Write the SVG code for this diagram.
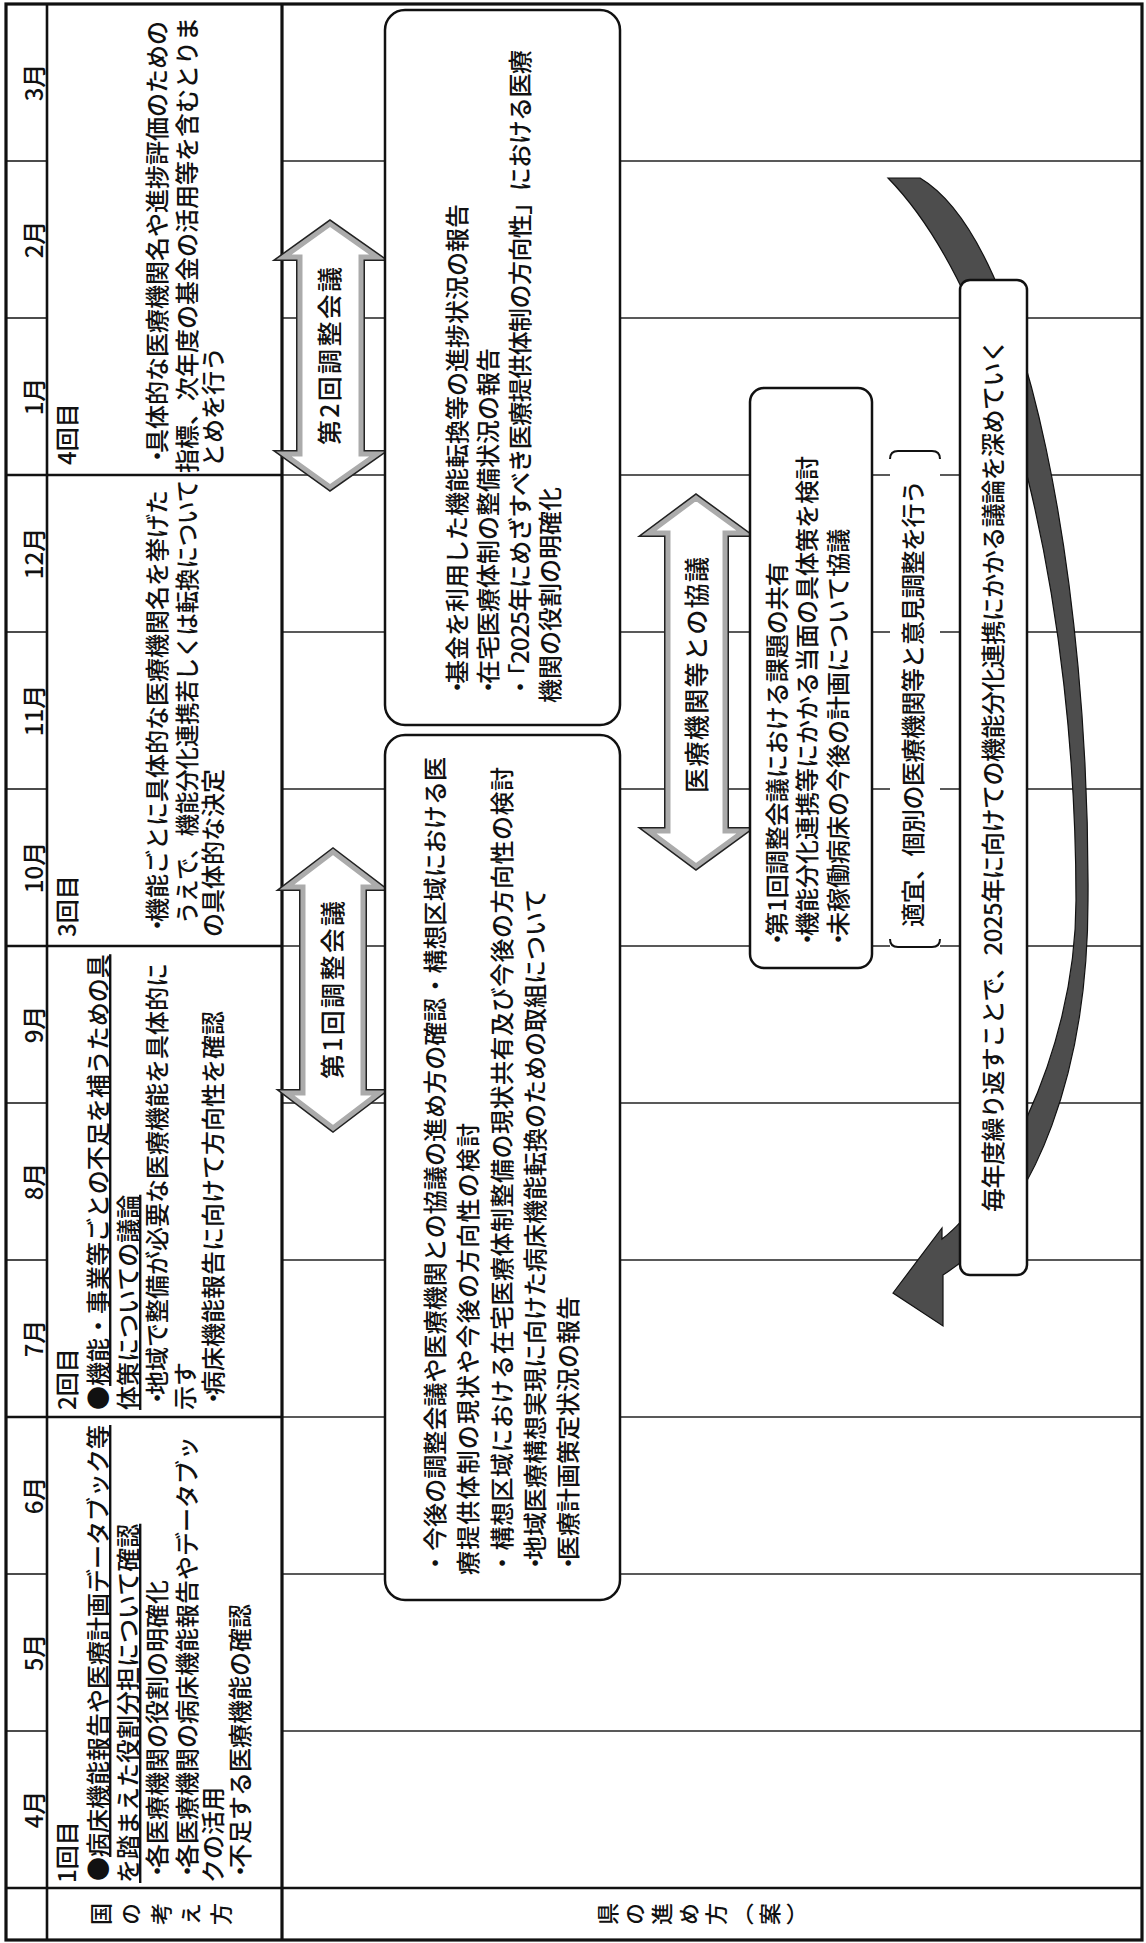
<svg xmlns="http://www.w3.org/2000/svg" width="1146" height="1943" viewBox="0 0 1146 1943">
<defs>
<style>
text{font-family:'Noto Sans CJK JP','Noto Sans',sans-serif;fill:#111;font-weight:500;}
.t{font-size:24px;}
.m{font-size:24px;text-anchor:middle;}
.v{font-size:22px;writing-mode:vertical-rl;text-anchor:middle;}
.u{text-decoration:underline;}
.lbl{font-size:25px;text-anchor:middle;}
.ln{stroke:#111;fill:none;}
.thin{stroke:#222;stroke-width:1.4;fill:none;}
.box{fill:#fff;stroke:#111;stroke-width:2.5;}
.aOut{fill:#fff;stroke:#222;stroke-width:8;stroke-linejoin:miter;}
.aIn{fill:#fff;stroke:#ababab;stroke-width:5;stroke-linejoin:miter;}
</style>
</defs>
<rect width="1146" height="1943" fill="#fff"/>
<g transform="translate(0,1943) rotate(-90)">
 <g id="grid">
  <g class="thin">
   <line x1="212" y1="282" x2="212" y2="1142"/>
   <line x1="369" y1="282" x2="369" y2="1142"/>
   <line x1="526" y1="282" x2="526" y2="1142"/>
   <line x1="683" y1="282" x2="683" y2="1142"/>
   <line x1="840" y1="282" x2="840" y2="1142"/>
   <line x1="997" y1="282" x2="997" y2="1142"/>
   <line x1="1154" y1="282" x2="1154" y2="1142"/>
   <line x1="1311" y1="282" x2="1311" y2="1142"/>
   <line x1="1468" y1="282" x2="1468" y2="1142"/>
   <line x1="1625" y1="282" x2="1625" y2="1142"/>
   <line x1="1782" y1="282" x2="1782" y2="1142"/>
  </g>
  <g class="ln" stroke-width="1.6">
   <line x1="212" y1="6" x2="212" y2="47"/>
   <line x1="369" y1="6" x2="369" y2="47"/>
   <line x1="683" y1="6" x2="683" y2="47"/>
   <line x1="840" y1="6" x2="840" y2="47"/>
   <line x1="1154" y1="6" x2="1154" y2="47"/>
   <line x1="1311" y1="6" x2="1311" y2="47"/>
   <line x1="1625" y1="6" x2="1625" y2="47"/>
   <line x1="1782" y1="6" x2="1782" y2="47"/>
  </g>
  <g class="ln" stroke-width="2.6">
   <line x1="526" y1="6" x2="526" y2="282"/>
   <line x1="997" y1="6" x2="997" y2="282"/>
   <line x1="1468" y1="6" x2="1468" y2="282"/>
   <line x1="3" y1="47" x2="1939" y2="47"/>
   <line x1="55" y1="6" x2="55" y2="1142"/>
  </g>
  <line class="ln" stroke-width="3.2" x1="3" y1="282" x2="1939" y2="282"/>
  <rect class="ln" stroke-width="3.2" x="3" y="6" width="1936" height="1136"/>
 </g>
 <g id="months">
  <text class="m" x="133.5" y="43">4月</text>
  <text class="m" x="290.5" y="43">5月</text>
  <text class="m" x="447.5" y="43">6月</text>
  <text class="m" x="604.5" y="43">7月</text>
  <text class="m" x="761.5" y="43">8月</text>
  <text class="m" x="918.5" y="43">9月</text>
  <text class="m" x="1075.5" y="43">10月</text>
  <text class="m" x="1232.5" y="43">11月</text>
  <text class="m" x="1389.5" y="43">12月</text>
  <text class="m" x="1546.5" y="43">1月</text>
  <text class="m" x="1703.5" y="43">2月</text>
  <text class="m" x="1860.5" y="43">3月</text>
 </g>
 <g id="row-labels">
  <text class="v" x="29" y="165" letter-spacing="8">国の考え方</text>
  <text class="v" x="29" y="705" letter-spacing="5">県の進め方（案）</text>
 </g>
 <g id="kuni-1">
  <text class="t" x="60" y="76">1回目</text>
  <text class="t" x="62" y="107">●<tspan class="u">病床機能報告や医療計画データブック等</tspan></text>
  <text class="t u" x="60" y="137">を踏まえた役割分担について確認</text>
  <text class="t" x="60" y="166">・<tspan dx="-9">各医療機関の役割の明確化</tspan></text>
  <text class="t" x="60" y="196">・<tspan dx="-9">各医療機関の病床機能報告やデータブッ</tspan></text>
  <text class="t" x="60" y="222">クの活用</text>
  <text class="t" x="60" y="249">・<tspan dx="-9">不足する医療機能の確認</tspan></text>
 </g>
 <g id="kuni-2">
  <text class="t" x="533" y="76">2回目</text>
  <text class="t" x="533" y="107">●<tspan class="u">機能・事業等ごとの不足を補うための具</tspan></text>
  <text class="t u" x="533" y="137">体策についての議論</text>
  <text class="t" x="533" y="166">・<tspan dx="-9">地域で整備が必要な医療機能を具体的に</tspan></text>
  <text class="t" x="533" y="194">示す</text>
  <text class="t" x="533" y="222">・<tspan dx="-9">病床機能報告に向けて方向性を確認</tspan></text>
 </g>
 <g id="kuni-3">
  <text class="t" x="1006" y="76">3回目</text>
  <text class="t" x="1006" y="166">・<tspan dx="-9">機能ごとに具体的な医療機関名を挙げた</tspan></text>
  <text class="t" x="1019" y="196" textLength="444" lengthAdjust="spacingAndGlyphs">うえで、機能分化連携若しくは転換について</text>
  <text class="t" x="1006" y="222">の具体的な決定</text>
 </g>
 <g id="kuni-4">
  <text class="t" x="1478" y="76">4回目</text>
  <text class="t" x="1475" y="166">・<tspan dx="-9">具体的な医療機関名や進捗評価のための</tspan></text>
  <text class="t" x="1470" y="196">指標、次年度の基金の活用等を含むとりま</text>
  <text class="t" x="1476" y="222">とめを行う</text>
 </g>
 <g id="connectors">
  <path d="M 1765 888 L 1765 920 C 1700 1030, 1350 1090, 1043 1088 C 880 1088, 730 1040, 668 943 L 617 943 L 650 893 L 715 942 L 704 942 C 740 990, 880 1076, 1043 1076 C 1330 1076, 1640 1010, 1765 888 Z" fill="#4d4d4d" stroke="#111" stroke-width="1.2"/>
 </g>
 <g id="arrow-chosei-1">
  <path class="aOut" d="M 815 333 L 850 287 L 850 303 L 1056 303 L 1056 287 L 1091 333 L 1056 379 L 1056 363 L 850 363 L 850 379 Z"/>
  <path class="aIn" d="M 815 333 L 850 287 L 850 303 L 1056 303 L 1056 287 L 1091 333 L 1056 379 L 1056 363 L 850 363 L 850 379 Z"/>
  <text class="lbl" x="953" y="342" textLength="178" lengthAdjust="spacing">第1回調整会議</text>
 </g>
 <g id="arrow-chosei-2">
  <path class="aOut" d="M 1456 330 L 1489 284 L 1489 300 L 1686 300 L 1686 284 L 1719 330 L 1686 377 L 1686 361 L 1489 361 L 1489 377 Z"/>
  <path class="aIn" d="M 1456 330 L 1489 284 L 1489 300 L 1686 300 L 1686 284 L 1719 330 L 1686 377 L 1686 361 L 1489 361 L 1489 377 Z"/>
  <text class="lbl" x="1587" y="339" textLength="178" lengthAdjust="spacing">第2回調整会議</text>
 </g>
 <g id="arrow-kyogi">
  <path class="aOut" d="M 1077 696 L 1112 649 L 1112 668 L 1410 668 L 1410 649 L 1445 696 L 1410 744 L 1410 725 L 1112 725 L 1112 744 Z"/>
  <path class="aIn" d="M 1077 696 L 1112 649 L 1112 668 L 1410 668 L 1410 649 L 1445 696 L 1410 744 L 1410 725 L 1112 725 L 1112 744 Z"/>
  <text class="lbl" x="1268" y="706" textLength="236" lengthAdjust="spacing">医療機関等との協議</text>
 </g>
 <g id="box-1">
  <rect class="box" x="343" y="385" width="865" height="235" rx="20"/>
  <text class="t" x="368" y="444" textLength="818" lengthAdjust="spacing">・今後の調整会議や医療機関との協議の進め方の確認・構想区域における医</text>
  <text class="t" x="368" y="477" textLength="452" lengthAdjust="spacing">療提供体制の現状や今後の方向性の検討</text>
  <text class="t" x="368" y="511" textLength="808" lengthAdjust="spacing">・構想区域における在宅医療体制整備の現状共有及び今後の方向性の検討</text>
  <text class="t" x="368" y="544">・<tspan dx="-9">地域医療構想実現に向けた病床機能転換のための取組について</tspan></text>
  <text class="t" x="368" y="577">・<tspan dx="-9">医療計画策定状況の報告</tspan></text>
 </g>
 <g id="box-2">
  <rect class="box" x="1218" y="385" width="715" height="235" rx="20"/>
  <text class="t" x="1244" y="466">・<tspan dx="-9">基金を利用した機能転換等の進捗状況の報告</tspan></text>
  <text class="t" x="1244" y="497">・<tspan dx="-9">在宅医療体制の整備状況の報告</tspan></text>
  <text class="t" x="1244" y="529" textLength="649" lengthAdjust="spacing">・「2025年にめざすべき医療提供体制の方向性」における医療</text>
  <text class="t" x="1240" y="559">機関の役割の明確化</text>
 </g>
 <g id="box-3">
  <rect class="box" x="975" y="750" width="580" height="122" rx="14"/>
  <text class="t" x="992" y="786">・<tspan dx="-9">第1回調整会議における課題の共有</tspan></text>
  <text class="t" x="992" y="816">・<tspan dx="-9">機能分化連携等にかかる当面の具体策を検討</tspan></text>
  <text class="t" x="992" y="847">・<tspan dx="-9">未稼働病床の今後の計画について協議</tspan></text>
 </g>
 <g id="bracket">
  <rect x="996" y="890" width="496" height="50" fill="#fff"/>
  <path d="M 1004 890 Q 996 890 996 898 L 996 932 Q 996 940 1004 940 M 1484 890 Q 1492 890 1492 898 L 1492 932 Q 1492 940 1484 940" fill="none" stroke="#111" stroke-width="2"/>
  <text class="t" x="1016" y="922" textLength="447" lengthAdjust="spacing">適宜、個別の医療機関等と意見調整を行う</text>
 </g>
 <g id="box-4">
  <rect class="box" x="668" y="960" width="995" height="67" rx="10"/>
  <text class="t" x="731" y="1002" textLength="873" lengthAdjust="spacing">毎年度繰り返すことで、2025年に向けての機能分化連携にかかる議論を深めていく</text>
 </g>
</g>
</svg>
